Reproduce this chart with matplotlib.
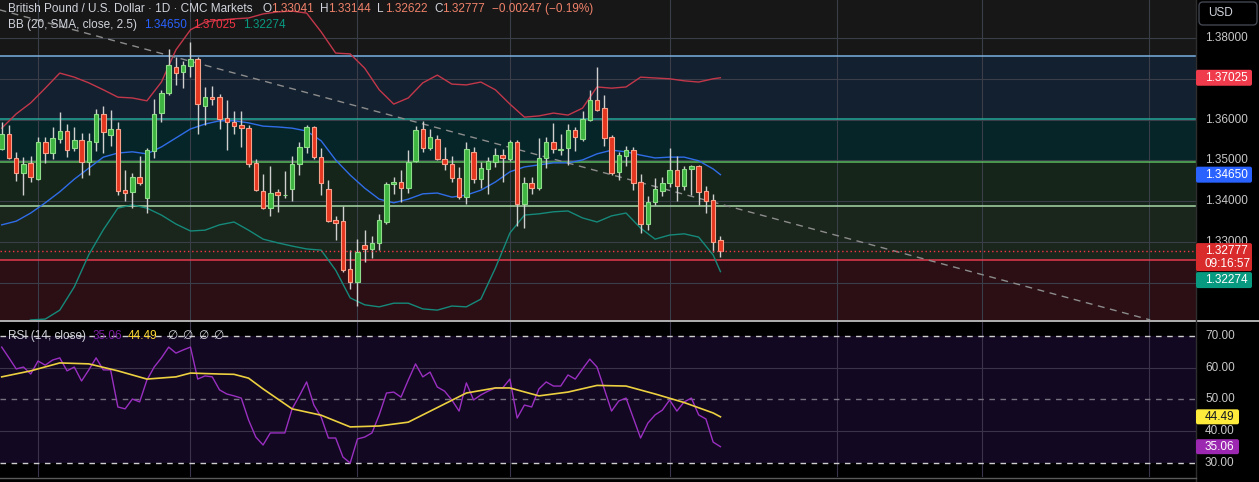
import numpy as np
import matplotlib
matplotlib.use('Agg')
import matplotlib.pyplot as plt
from matplotlib.patches import FancyBboxPatch
from matplotlib.transforms import Bbox, TransformedBbox

plt.rcParams['font.family'] = ['Liberation Sans', 'DejaVu Sans']

# ---- GBPUSD daily candles, index 0 = first visible bar
opens = [1.3527, 1.3564, 1.3507, 1.3468, 1.3493, 1.3454, 1.3544, 1.3517, 1.3553, 1.3572,
         1.3530, 1.3550, 1.3497, 1.3546, 1.3614, 1.3561, 1.3576, 1.3427, 1.3423, 1.3459,
         1.3407, 1.3524, 1.3617, 1.3664, 1.3728, 1.3717, 1.3732, 1.3748, 1.3634, 1.3656,
         1.3655, 1.3603, 1.3594, 1.3587, 1.3579, 1.3493, 1.3426, 1.3383, 1.3422, 1.3414,
         1.3429, 1.3490, 1.3532, 1.3581, 1.3508, 1.3429, 1.3353, 1.3351, 1.3233, 1.3203,
         1.3292, 1.3282, 1.3297, 1.3350, 1.3442, 1.3446, 1.3432, 1.3499, 1.3576, 1.3530,
         1.3552, 1.3504, 1.3490, 1.3456, 1.3411, 1.3520, 1.3454, 1.3478, 1.3497, 1.3513,
         1.3503, 1.3544, 1.3392, 1.3444, 1.3432, 1.3505, 1.3544, 1.3526, 1.3530, 1.3575,
         1.3552, 1.3599, 1.3648, 1.3628, 1.3557, 1.3472, 1.3511, 1.3526, 1.3446, 1.3343,
         1.3399, 1.3426, 1.3444, 1.3476, 1.3438, 1.3478, 1.3486, 1.3425, 1.3403, 1.33041]
highs = [1.3595, 1.3587, 1.3521, 1.3509, 1.3511, 1.3558, 1.3558, 1.3581, 1.3619, 1.3588,
         1.3581, 1.3566, 1.3566, 1.3625, 1.3633, 1.3624, 1.3595, 1.3476, 1.3468, 1.3511,
         1.3530, 1.3650, 1.3673, 1.3772, 1.3754, 1.3744, 1.3791, 1.3754, 1.3679, 1.3682,
         1.3663, 1.3648, 1.3622, 1.3621, 1.3587, 1.3503, 1.3467, 1.3486, 1.3430, 1.3474,
         1.3511, 1.3546, 1.3587, 1.3584, 1.3530, 1.3452, 1.3364, 1.3387, 1.3280, 1.3307,
         1.3329, 1.3315, 1.3369, 1.3448, 1.3460, 1.3476, 1.3526, 1.3584, 1.3597, 1.3576,
         1.3562, 1.3532, 1.3511, 1.3483, 1.3546, 1.3534, 1.3495, 1.3509, 1.3530, 1.3527,
         1.3550, 1.3550, 1.3460, 1.3460, 1.3556, 1.3557, 1.3591, 1.3565, 1.3588, 1.3581,
         1.3621, 1.3673, 1.3730, 1.3660, 1.3562, 1.3521, 1.3535, 1.3532, 1.3467, 1.3413,
         1.3456, 1.3459, 1.3530, 1.3511, 1.3486, 1.3489, 1.3489, 1.3437, 1.3418, 1.33144]
lows = [1.3525, 1.3503, 1.3450, 1.3415, 1.3448, 1.3452, 1.3493, 1.3503, 1.3542, 1.3508,
        1.3523, 1.3456, 1.3464, 1.3524, 1.3517, 1.3535, 1.3415, 1.3401, 1.3383, 1.3440,
        1.3370, 1.3505, 1.3593, 1.3660, 1.3685, 1.3677, 1.3705, 1.3564, 1.3587, 1.3636,
        1.3576, 1.3526, 1.3565, 1.3534, 1.3483, 1.3426, 1.3380, 1.3364, 1.3374, 1.3407,
        1.3401, 1.3464, 1.3517, 1.3504, 1.3415, 1.3350, 1.3305, 1.3227, 1.3184, 1.3142,
        1.3252, 1.3260, 1.3280, 1.3344, 1.3418, 1.3399, 1.3421, 1.3497, 1.3521, 1.3526,
        1.3501, 1.3476, 1.3448, 1.3405, 1.3392, 1.3445, 1.3432, 1.3418, 1.3485, 1.3448,
        1.3499, 1.3340, 1.3334, 1.3418, 1.3428, 1.3482, 1.3519, 1.3513, 1.3489, 1.3524,
        1.3548, 1.3597, 1.3621, 1.3535, 1.3464, 1.3452, 1.3486, 1.3428, 1.3323, 1.3329,
        1.3391, 1.3413, 1.3436, 1.3401, 1.3428, 1.3415, 1.3391, 1.3372, 1.3276, 1.32622]
closes = [1.3564, 1.3507, 1.3468, 1.3491, 1.3459, 1.3544, 1.3517, 1.3554, 1.3572, 1.3526,
          1.3550, 1.3497, 1.3548, 1.3614, 1.3570, 1.3576, 1.3426, 1.3419, 1.3459, 1.3445,
          1.3526, 1.3614, 1.3664, 1.3734, 1.3713, 1.3734, 1.3748, 1.3637, 1.3656, 1.3650,
          1.3602, 1.3593, 1.3585, 1.3579, 1.3490, 1.3428, 1.3383, 1.3419, 1.3414, 1.3415,
          1.3490, 1.3532, 1.3581, 1.3508, 1.3444, 1.3352, 1.3346, 1.3231, 1.3203, 1.3276,
          1.3282, 1.3297, 1.3354, 1.3442, 1.3448, 1.3432, 1.3497, 1.3575, 1.3530, 1.3558,
          1.3503, 1.3490, 1.3456, 1.3410, 1.3527, 1.3454, 1.3481, 1.3499, 1.3513, 1.3505,
          1.3544, 1.3392, 1.3444, 1.3432, 1.3505, 1.3544, 1.3527, 1.3528, 1.3575, 1.3558,
          1.3601, 1.3648, 1.3624, 1.3554, 1.3470, 1.3513, 1.3526, 1.3445, 1.3343, 1.3397,
          1.3429, 1.3444, 1.3476, 1.3438, 1.3479, 1.3486, 1.3423, 1.3401, 1.3299, 1.32777]

# ---- Bollinger Bands (20, SMA, 2.5) read at every second bar
bb_idx = list(range(0, 100, 2)) + [99]
bb_upper = [1.3579, 1.3614, 1.3641, 1.3677, 1.3714, 1.3704, 1.3690, 1.3673, 1.3655, 1.3653,
            1.3646, 1.3692, 1.3771, 1.3820, 1.3839, 1.3844, 1.3847, 1.3849, 1.3859, 1.3864,
            1.3866, 1.3861, 1.3815, 1.3763, 1.3761, 1.3726, 1.3673, 1.3638, 1.3653, 1.3690,
            1.3709, 1.3687, 1.3685, 1.3692, 1.3673, 1.3638, 1.3606, 1.3609, 1.3616, 1.3611,
            1.3628, 1.3680, 1.3677, 1.3680, 1.3704, 1.3702, 1.3700, 1.3695, 1.3692, 1.3700,
            1.37025]
bb_basis = [1.3342, 1.3351, 1.3371, 1.3396, 1.3423, 1.3454, 1.3481, 1.3508, 1.3518, 1.3521,
            1.3516, 1.3533, 1.3555, 1.3577, 1.3589, 1.3597, 1.3597, 1.3592, 1.3584, 1.3582,
            1.3579, 1.3572, 1.3548, 1.3501, 1.3464, 1.3432, 1.3405, 1.3396, 1.3405, 1.3418,
            1.3420, 1.3410, 1.3415, 1.3427, 1.3447, 1.3472, 1.3484, 1.3489, 1.3494, 1.3494,
            1.3501, 1.3516, 1.3525, 1.3521, 1.3513, 1.3506, 1.3508, 1.3508, 1.3499, 1.3479,
            1.34650]
bb_lower = [1.3105, 1.3090, 1.3109, 1.3111, 1.3133, 1.3190, 1.3269, 1.3330, 1.3383, 1.3391,
            1.3383, 1.3366, 1.3344, 1.3327, 1.3329, 1.3342, 1.3349, 1.3329, 1.3307, 1.3298,
            1.3290, 1.3283, 1.3280, 1.3231, 1.3163, 1.3146, 1.3141, 1.3150, 1.3150, 1.3136,
            1.3133, 1.3143, 1.3141, 1.3160, 1.3236, 1.3322, 1.3366, 1.3369, 1.3374, 1.3376,
            1.3359, 1.3349, 1.3364, 1.3371, 1.3334, 1.3307, 1.3317, 1.3320, 1.3312, 1.3268,
            1.32274]

# ---- RSI (14) and its moving average
rsi = [66.5, 63.1, 59.6, 60.2, 58.0, 62.1, 60.8, 62.4, 63.1, 59.0,
       60.2, 55.8, 59.3, 63.1, 59.3, 59.3, 47.6, 47.0, 50.1, 49.2,
       56.1, 60.2, 63.1, 66.5, 64.6, 65.6, 66.5, 56.4, 57.4, 57.1,
       53.0, 51.7, 51.1, 50.4, 43.5, 38.1, 35.6, 39.4, 39.4, 39.4,
       47.0, 51.1, 55.5, 48.2, 44.4, 37.8, 37.8, 31.8, 29.9, 37.5,
       38.1, 39.4, 45.1, 52.0, 52.3, 50.7, 56.1, 61.2, 57.1, 58.6,
       53.9, 52.6, 49.8, 46.3, 55.2, 49.8, 51.4, 52.6, 53.6, 53.6,
       56.4, 44.1, 48.2, 47.6, 53.3, 55.5, 54.2, 54.2, 57.7, 56.4,
       59.6, 62.7, 60.2, 53.3, 46.3, 49.5, 50.4, 44.1, 37.8, 42.5,
       45.1, 46.6, 49.8, 46.3, 49.2, 50.4, 45.1, 43.8, 36.5, 35.06]
rsi_ma_idx = [0, 4, 8, 12, 16, 20, 24, 26, 30, 32, 34, 36, 40, 44, 48, 52, 56, 60, 64,
              68, 70, 74, 78, 82, 86, 90, 94, 98, 99]
rsi_ma = [57.1, 59.0, 61.5, 61.2, 59.0, 56.4, 57.1, 58.3, 58.0, 57.9, 56.7, 53.3, 47.0,
          45.0, 41.3, 41.6, 42.8, 47.4, 52.0, 53.6, 53.6, 51.1, 52.3, 54.4, 54.2, 51.7,
          49.0, 45.7, 44.49]

# ---- drawings on the chart
zone_levels = [1.3756, 1.3602, 1.3496, 1.3388, 1.3256]
trend_x = [-0.3, 158.2]
trend_y = [1.3869, 1.3109]
month_idx = [5, 26, 49, 70, 92, 115, 135, 158]   # Jun, Jul, Aug, Sep, Oct, Nov, Dec, Jan
price_ticks = [1.38, 1.36, 1.35, 1.34, 1.33]
rsi_ticks = [70, 60, 50, 40, 30]

opens, highs, lows, closes = map(np.array, (opens, highs, lows, closes))

W, H = 1259, 482
main_bot = 320
rsi_top, rsi_bot = 322, 477
plot_w = 1196
bar_px, x0_px = 7.26, 1.7

fig = plt.figure(figsize=(W / 100, H / 100), dpi=100, facecolor='black')
ax = fig.add_axes([0, 1 - main_bot / H, plot_w / W, main_bot / H])
rx = fig.add_axes([0, 1 - rsi_bot / H, plot_w / W, (rsi_bot - rsi_top) / H])
ov = fig.add_axes([0, 0, 1, 1])
ov.set_xlim(0, W)
ov.set_ylim(H, 0)
ov.axis('off')

xlim = (-x0_px / bar_px, (plot_w - x0_px) / bar_px)
ylim = (1.31088, 1.38931)
rlim = (25.49, 74.42)

for a in (ax, rx):
    a.set_xlim(*xlim)
    a.set_xticks([])
    a.set_yticks([])
    for s in a.spines.values():
        s.set_visible(False)
ax.set_ylim(*ylim)
rx.set_ylim(*rlim)

# ---- main pane: zones
ax.set_facecolor('#171717')
zone_fill = ['#13202f', '#062528', '#15251a', '#1a251b', '#2b0f15']
zone_line = ['#7ab0e0', '#26a69a', '#5cb85f', '#a8d8a8', '#e5394e']
edges = zone_levels + [ylim[0]]
for k in range(len(zone_levels)):
    ax.axhspan(edges[k + 1], edges[k], color=zone_fill[k], lw=0, zorder=0)
    ax.axhline(zone_levels[k], color=zone_line[k], lw=1.1, zorder=2)

for p in np.arange(1.31, 1.39, 0.01):
    ax.axhline(p, color='#3a3e48', lw=0.8, zorder=1)
for m in month_idx:
    ax.axvline(m, color='#3a3e48', lw=0.8, zorder=1)

# Bollinger bands
ax.plot(bb_idx, bb_upper, color='#c2374a', lw=1.0, zorder=3)
ax.plot(bb_idx, bb_basis, color='#2f6de8', lw=1.0, zorder=3)
ax.plot(bb_idx, bb_lower, color='#15897a', lw=1.0, zorder=3)

ax.plot(trend_x, trend_y, color='#8c8c8c', lw=1, ls=(0, (5, 4)), zorder=3)

# candles
idx = np.arange(len(opens))
up = closes >= opens
lo = np.minimum(opens, closes)
bh = np.maximum(np.abs(closes - opens), 0.00003)
ax.vlines(idx, lows, highs, color='#cfcfcf', lw=1, zorder=4)
ax.bar(idx[up], bh[up], 0.62, bottom=lo[up], color='#3fb541', edgecolor='#8fdc8a', lw=0.8, zorder=5)
ax.bar(idx[~up], bh[~up], 0.62, bottom=lo[~up], color='#e5361f', edgecolor='#f7a08a', lw=0.8, zorder=5)

ax.axhline(closes[-1], color='#f23645', lw=1, ls=(0, (1, 2)), zorder=6)

# ---- RSI pane
rx.set_facecolor('black')
rx.axhspan(30, 70, color='#120822', lw=0, zorder=0)
for v in (60, 40):
    rx.axhline(v, color='#3b3349', lw=0.8, zorder=1)
for m in month_idx:
    rx.axvline(m, color='#3b3349', lw=0.8, zorder=1)
rx.axhline(70, color='#cfcfcf', lw=1, ls=(0, (4, 4)), zorder=2)
rx.axhline(30, color='#cfcfcf', lw=1, ls=(0, (4, 4)), zorder=2)
rx.axhline(50, color='#77727f', lw=1, ls=(0, (4, 4)), zorder=2)
rx.plot(idx, rsi, color='#9a2fc0', lw=1.0, zorder=3)
rx.plot(rsi_ma_idx, rsi_ma, color='#ecd040', lw=1.2, zorder=4)


def py(v):
    return (ylim[1] - v) / (ylim[1] - ylim[0]) * main_bot


def ry(v):
    return rsi_top + (rlim[1] - v) / (rlim[1] - rlim[0]) * (rsi_bot - rsi_top)


def tag(yc, h, bg, width=56):
    ov.add_patch(FancyBboxPatch((plot_w, yc - h / 2), width, h,
                                boxstyle='round,pad=0,rounding_size=2',
                                fc=bg, ec='none', zorder=5))


# pane separators
ov.plot([0, W], [321, 321], color='#cfcfcf', lw=1.2)
ov.plot([plot_w + 0.5, plot_w + 0.5], [0, H], color='#2e2e2e', lw=1)
ov.plot([0, plot_w], [477.5, 477.5], color='#5a5a5a', lw=1)

lab = dict(fontsize=8.5, va='center', ha='left')
lx = 1205
yc = py(closes[-1])
for p in price_ticks:
    t = ov.text(lx, py(p), '%.5f' % p, color='#c8c8c8', zorder=3, **lab)
    if p == 1.33:
        # the live price tag covers the lower part of this label
        t.set_clip_box(TransformedBbox(Bbox([[plot_w, 0], [W, yc - 8]]), ov.transData))
for v in rsi_ticks:
    ov.text(lx, ry(v), '%.2f' % v, color='#c8c8c8', zorder=3, **lab)

tag(py(bb_upper[-1]), 16, '#ef3b4b')
ov.text(lx, py(bb_upper[-1]), '%.5f' % bb_upper[-1], color='white', zorder=6, **lab)
tag(py(bb_basis[-1]), 16, '#2962ff')
ov.text(lx, py(bb_basis[-1]), '%.5f' % bb_basis[-1], color='white', zorder=6, **lab)
ov.add_patch(FancyBboxPatch((plot_w, yc - 8), 56, 28, boxstyle='round,pad=0,rounding_size=2',
                            fc='#d92a2c', ec='none', zorder=5))
ov.text(lx, yc, '%.5f' % closes[-1], color='white', zorder=6, **lab)
ov.text(lx, yc + 13, '09:16:57', color='white', zorder=6, **lab)
tag(yc + 29, 16, '#089981')
ov.text(lx, yc + 29, '%.5f' % bb_lower[-1], color='white', zorder=6, **lab)

tag(ry(rsi_ma[-1]), 15, '#ffeb3b', width=43)
ov.text(lx, ry(rsi_ma[-1]), '%.2f' % rsi_ma[-1], color='#131722', zorder=6, **lab)
tag(ry(rsi[-1]), 15, '#9c27b0', width=43)
ov.text(lx, ry(rsi[-1]), '%.2f' % rsi[-1], color='white', zorder=6, **lab)

ov.add_patch(FancyBboxPatch((1199, 2), 58, 23, boxstyle='round,pad=0,rounding_size=4',
                            fc='black', ec='#434651', lw=1, zorder=5))
ov.text(1208, 13, 'USD', color='#d1d4dc', zorder=6, **lab)

# ---- legends
fg = '#d1d4dc'
val = '#f0826a'
ov.text(8, 9, 'British Pound / U.S. Dollar · 1D · CMC Markets', color=fg, **lab)
for x, letter, v in ((263, 'O', opens[-1]), (320, 'H', highs[-1]),
                     (377, 'L', lows[-1]), (434, 'C', closes[-1])):
    ov.text(x, 9, letter, color=fg, **lab)
    ov.text(x + 8, 9, '%.5f' % v, color=val, **lab)
ov.text(492, 9, '\u22120.00247 (\u22120.19%)', color=val, **lab)

ov.text(8, 25, 'BB (20, SMA, close, 2.5)', color=fg, **lab)
ov.text(144, 25, '%.5f' % bb_basis[-1], color='#2962ff', **lab)
ov.text(193, 25, '%.5f' % bb_upper[-1], color='#f23645', **lab)
ov.text(243, 25, '%.5f' % bb_lower[-1], color='#089981', **lab)

ov.text(8, 336, 'RSI (14, close)', color=fg, **lab)
ov.text(93, 336, '%.2f' % rsi[-1], color='#7b1fa2', **lab)
ov.text(128, 336, '%.2f' % rsi_ma[-1], color='#fdd835', **lab)
for x in (167, 182, 198, 213):
    ov.text(x, 336, '\u2205', color=fg, **lab)

fig.savefig('out.png', dpi=100, facecolor='black')
